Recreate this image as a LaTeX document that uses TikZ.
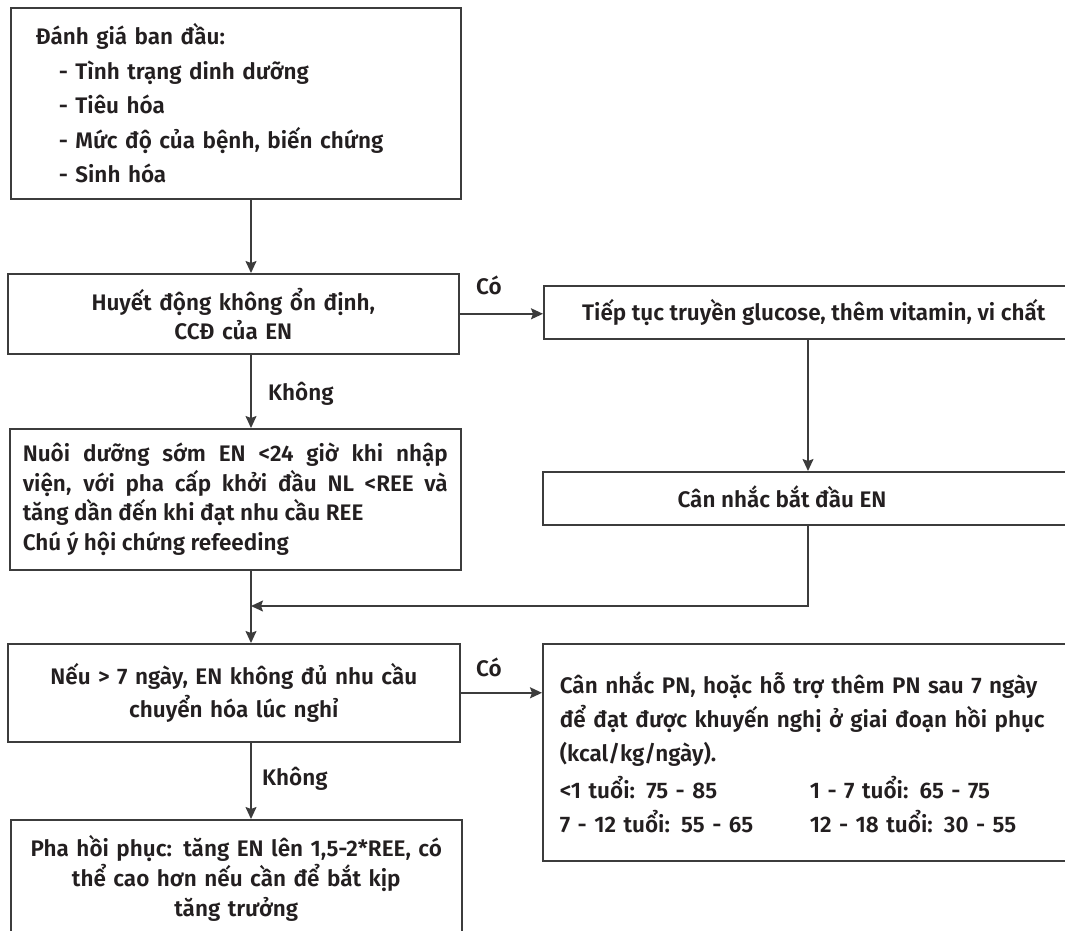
\documentclass[tikz,border=0pt]{standalone}
\usepackage{fontspec}
\setmainfont{Fira Sans SemiBold}
\usetikzlibrary{arrows.meta}
\definecolor{ink}{HTML}{231F20}
\definecolor{rulec}{HTML}{3C3C3C}
\newcommand\bodysize[1]{\fontsize{22.5pt}{#1}\selectfont}

\begin{document}
\begin{tikzpicture}[x=1pt,y=-1pt,
  every node/.style={text=ink},
  box/.style={draw=rulec, line width=1.6pt, fill=white, anchor=north west, inner sep=0pt},
  conn/.style={draw=rulec, line width=1.6pt},
  arr/.style={conn, -{Stealth[length=12pt,width=11pt,inset=2pt]}},
  lab/.style={font=\bodysize{24pt}, inner sep=0pt}]
\useasboundingbox (0,0) rectangle (1065,931);
\clip (0,0) rectangle (1065,931);

% guide lines for the two vertical connector columns
\coordinate (spine) at (251,0);
\coordinate (rcol) at (808,0);
\coordinate (join) at (251,606);

% initial assessment
\node[box, minimum width=450pt, minimum height=191pt, text width=400pt,
      inner xsep=25pt, align=left, font=\bodysize{34.5pt}] (assess) at (10,7)
  {Đánh giá ban đầu:\\
   \hspace*{23pt}- Tình trạng dinh dưỡng\\
   \hspace*{23pt}- Tiêu hóa\\
   \hspace*{23pt}- Mức độ của bệnh, biến chứng\\
   \hspace*{23pt}- Sinh hóa};

% hemodynamics question
\node[box, minimum width=451pt, minimum height=80pt, text width=431pt,
      inner xsep=10pt, align=center, font=\bodysize{29pt}] (hemo) at (7,273)
  {Huyết động không ổn định,\\CCĐ của EN};

% continue glucose
\node[box, minimum width=540pt, minimum height=53pt, font=\bodysize{24pt}] (cont) at (543,285)
  {Tiếp tục truyền glucose, thêm vitamin, vi chất};

% consider starting EN
\node[box, minimum width=540pt, minimum height=53pt] (start) at (542,471) {};
\node[lab] (startT) at (782,497) {Cân nhắc bắt đầu EN};

% early enteral nutrition
\node[box, minimum width=451pt, minimum height=141pt, text width=425pt,
      inner xsep=13pt, align=justify, font=\bodysize{29.7pt}] (early) at (9,428)
  {Nuôi dưỡng sớm EN <24 giờ khi nhập\linebreak
   viện, với pha cấp khởi đầu NL <REE và\linebreak
   tăng dần đến khi đạt nhu cầu REE\\
   Chú ý hội chứng refeeding};

% more than 7 days question
\node[box, minimum width=452pt, minimum height=98pt, text width=432pt,
      inner xsep=10pt, align=center, font=\bodysize{33pt}] (over7) at (7,643)
  {Nếu > 7 ngày, EN không đủ nhu cầu\\chuyển hóa lúc nghỉ};

% parenteral nutrition
\node[box, minimum width=540pt, minimum height=217pt, text width=506pt,
      inner xsep=17pt, align=left, font=\bodysize{34pt}] (pn) at (542,643)
  {Cân nhắc PN, hoặc hỗ trợ thêm PN sau 7 ngày\\
   để đạt được khuyến nghị ở giai đoạn hồi phục\\
   (kcal/kg/ngày).\\[6pt]
   {\bodysize{31pt}\makebox[250pt][l]{<1 tuổi: 75 - 85}1 - 7 tuổi: 65 - 75\\
   \makebox[250pt][l]{7 - 12 tuổi: 55 - 65}12 - 18 tuổi: 30 - 55}\\[16pt]};

% recovery phase
\node[box, minimum width=451pt, minimum height=118pt, text width=431pt,
      inner xsep=10pt, align=center, font=\bodysize{30pt}] (rec) at (10,819)
  {Pha hồi phục: tăng EN lên 1,5-2*REE, có\\thể cao hơn nếu cần để bắt kịp\\tăng trưởng};

% connectors
\draw[arr] (assess.south -| spine) -- (hemo.north -| spine);
\draw[arr] (hemo.east) -- (hemo.east -| cont.west);
\draw[arr] (cont.south -| rcol) -- (start.north -| rcol);
\draw[arr] (hemo.south -| spine) -- (early.north -| spine);
\draw[conn] (early.south -| spine) -- (join);
\draw[arr] (join) -- (over7.north -| spine);
\draw[arr] (start.south -| rcol) |- (join);
\draw[arr] (over7.east) -- (over7.east -| pn.west);
\draw[arr] (over7.south -| spine) -- (rec.north -| spine);

% branch labels
\node[lab] (yes1) at (489,285) {Có};
\node[lab] (yes2) at (489,667) {Có};
\node[lab, anchor=west] (no1) at (268,394) {Không};
\node[lab, anchor=west] (no2) at (262,779) {Không};
\end{tikzpicture}
\end{document}
